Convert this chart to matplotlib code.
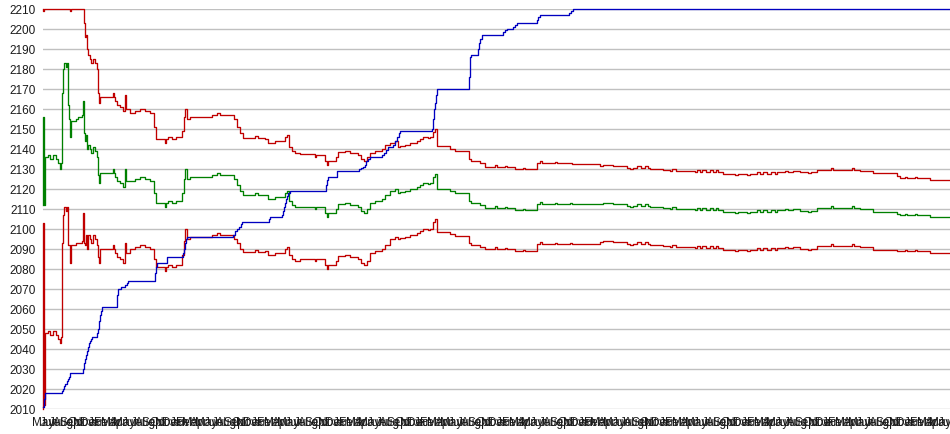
import matplotlib
matplotlib.use("Agg")
import matplotlib.pyplot as plt
import numpy as np

plt.rcParams['font.family'] = ['Liberation Sans', 'DejaVu Sans']

# observation index (about 6.8 observations per month), series starts in May
OBS_PER_MONTH = 6.8
N_OBS = 907
month_names = ['Jan', 'Feb', 'Mar', 'Apr', 'May', 'Jun', 'Jul', 'Aug', 'Sep', 'Oct', 'Nov', 'Dec']
first_month = 4

# running mean (green) and band half-width (red = mean +/- half-width)
mean_t = [0, 0.4, 1.2, 2, 5, 7, 10, 13, 15, 17, 18, 19, 20, 21, 23, 24, 25, 26, 27, 28,
          33, 35, 39, 40, 41, 42, 43, 44, 45, 47, 48, 50, 52, 54, 55, 56, 57, 70, 71, 72,
          74, 77, 80, 82, 83, 87, 92, 97, 102, 107, 111, 113, 122, 123, 125, 129, 133, 139, 141, 142,
          144, 147, 169, 174, 177, 182, 191, 194, 197, 200, 212, 215, 222, 225, 232, 242, 244, 246, 249, 252,
          257, 272, 273, 282, 284, 285, 293, 295, 302, 307, 315, 318, 321, 324, 327, 332, 339, 342, 347, 352,
          355, 357, 362, 367, 374, 377, 380, 385, 387, 390, 392, 394, 407, 412, 426, 428, 437, 442, 452, 454,
          462, 464, 472, 480, 482, 494, 497, 499, 512, 514, 527, 529, 557, 560, 570, 584, 587, 590, 594, 598,
          602, 605, 607, 620, 627, 629, 633, 652, 654, 657, 659, 663, 667, 670, 673, 675, 680, 692, 695, 704,
          707, 714, 717, 720, 724, 728, 732, 734, 742, 745, 750, 757, 765, 768, 774, 788, 790, 809, 811, 817,
          830, 854, 857, 862, 864, 872, 874, 887, 907]
mean_v = [2112, 2156, 2112, 2136, 2137, 2135, 2137, 2135, 2133, 2130, 2133, 2168, 2180, 2183, 2181, 2183, 2162, 2155, 2146, 2154,
          2155, 2156, 2157, 2164, 2148, 2144, 2147, 2140, 2142, 2140, 2138, 2141, 2139, 2136, 2127, 2123, 2128, 2130, 2128, 2126,
          2124, 2123, 2121, 2130, 2124, 2124, 2125, 2126, 2125, 2124, 2118, 2113, 2111, 2113, 2114, 2113, 2114, 2118, 2125, 2130,
          2125, 2126, 2127, 2128, 2127, 2127, 2125, 2122, 2119, 2117, 2118, 2117, 2117, 2115, 2116, 2118, 2119, 2114, 2112, 2111,
          2111, 2110, 2111, 2108, 2106, 2108, 2110, 2112.5, 2113, 2112, 2111, 2109, 2108, 2110, 2113, 2114, 2115, 2117, 2119, 2120,
          2118, 2118.5, 2119, 2120, 2121, 2122, 2123, 2122.5, 2123, 2126, 2127.5, 2120, 2118.7, 2117.8, 2114, 2113, 2112, 2110.5, 2111.5, 2110.5,
          2111, 2110.5, 2109.5, 2110, 2109.5, 2112.5, 2113.5, 2112.5, 2113, 2112.5, 2113, 2112.5, 2112.2, 2113, 2112.2, 2111.5, 2110.7, 2111.5, 2112.2, 2111.5,
          2112.2, 2111.5, 2111, 2110.5, 2110, 2110.8, 2110, 2109.6, 2110.5, 2109.6, 2110.5, 2109.6, 2110.5, 2109.6, 2110.5, 2109.6, 2108.6, 2108, 2108.6, 2108,
          2108.6, 2109.3, 2108.6, 2109.3, 2108.6, 2109.3, 2108.6, 2109.3, 2110, 2109.3, 2110, 2109, 2108.5, 2109, 2110.5, 2111.3, 2110.5, 2111.3, 2110.5, 2110,
          2108.5, 2107.5, 2107, 2107.6, 2107, 2107.6, 2107, 2106, 2106]
half_width = [102, 53, 100, 88, 88, 88, 88, 88, 88, 87, 87, 75, 73, 72, 72, 72, 70, 63, 63, 62,
              62, 63, 63, 56, 55, 52, 50, 50, 45, 45, 45, 44, 44, 44, 41, 40, 38, 38, 38, 38,
              38, 38, 38, 37, 36, 34, 34, 34, 34, 34, 33, 32, 32, 32, 32, 32, 32, 31, 31, 30,
              30, 30, 30, 30, 30, 30, 30, 29, 29, 28.5, 28.5, 28.5, 28, 28, 28, 28, 28, 27, 27, 27,
              26.3, 26, 26, 26, 26, 26, 26, 26, 26, 26, 26, 26, 26, 26, 25, 25, 25, 25, 24, 24,
              23, 23, 23, 23, 23, 23, 23, 23, 23, 22.5, 22.5, 21.5, 21.3, 21.2, 21, 21, 21, 20.5, 20.5, 20.5,
              20.5, 20.5, 20.5, 20.5, 20.5, 20.3, 20.3, 20.3, 20.3, 20.3, 20, 20, 19, 19, 19, 19, 19, 19, 19, 19,
              19, 19, 19, 19, 19, 19, 19, 19, 19, 19, 19, 19, 19, 19, 19, 19, 19, 19, 19, 19,
              19, 19, 19, 19, 19, 19, 19, 19, 19, 19, 19, 19.3, 19.3, 19.3, 19, 19, 19, 19, 19, 19,
              19.3, 18.7, 18.3, 18.3, 18.3, 18.3, 18.3, 18.3, 18.3]

# cumulative level (blue)
cum_t = [0, 0.5, 1.5, 19, 20, 21, 22, 24, 25, 26, 27, 40, 41, 42, 43, 44, 45, 46, 47, 48,
         49, 54, 55, 56, 57, 58, 59, 74, 75, 78, 82, 84, 85, 112, 113, 114, 124, 140, 141, 142,
         143, 144, 190, 192, 194, 196, 198, 199, 226, 227, 239, 240, 241, 242, 243, 244, 245, 247, 283, 284,
         285, 294, 316, 318, 320, 322, 323, 325, 327, 339, 341, 343, 345, 350, 352, 354, 356, 357, 389, 390,
         391, 392, 393, 394, 426, 427, 428, 435, 436, 437, 439, 460, 462, 464, 470, 472, 474, 494, 495, 497,
         526, 528, 530, 907]
cum_v = [2011, 2015, 2018, 2019, 2020, 2021.5, 2022.5, 2024, 2025, 2026, 2028, 2030, 2033, 2035, 2037, 2039, 2041, 2043, 2044, 2045,
         2046, 2048, 2050, 2054, 2057, 2059, 2061, 2067, 2070, 2071, 2072, 2073, 2074, 2078, 2081, 2083, 2086, 2088, 2090, 2093,
         2095, 2096, 2097, 2099, 2100, 2101, 2102.5, 2103.5, 2105, 2106, 2107, 2109, 2111, 2113, 2115, 2116.5, 2118, 2119, 2122, 2124.5,
         2126, 2129, 2130, 2130.5, 2131, 2132, 2134, 2135, 2136, 2137, 2138, 2139.5, 2141, 2142, 2144, 2146, 2148, 2149, 2150, 2155,
         2160, 2163, 2167, 2170, 2176, 2185.75, 2187, 2190, 2193, 2195, 2197, 2198.5, 2199.5, 2200, 2201, 2202, 2203, 2204.5, 2206, 2207,
         2208, 2209, 2212, 2216]

y_min, y_max = 2010, 2210

mean_t = np.array(mean_t, dtype=float)
mean_v = np.array(mean_v, dtype=float)
half_width = np.array(half_width, dtype=float)
upper = np.clip(mean_v + half_width, y_min, y_max)
lower = np.clip(mean_v - half_width, y_min, y_max)
cum = np.clip(np.array(cum_v, dtype=float), y_min, y_max)

fig = plt.figure(figsize=(9.5, 4.35), dpi=100)
ax = fig.add_axes([43 / 950, 25 / 435, 907 / 950, 400.5 / 435])

lw = 0.95
ax.plot(mean_t, upper, drawstyle='steps-post', color='#c00000', lw=lw, clip_on=False, zorder=3)
ax.plot(mean_t, lower, drawstyle='steps-post', color='#c00000', lw=lw, clip_on=False, zorder=3)
ax.plot(mean_t, mean_v, drawstyle='steps-post', color='#008000', lw=lw, clip_on=False, zorder=3)
ax.plot(cum_t, cum, drawstyle='steps-post', color='#0000c0', lw=lw, clip_on=False, zorder=4)

ax.set_xlim(0, N_OBS)
ax.set_ylim(y_min, y_max)
ax.set_yticks(np.arange(y_min, y_max + 1, 10))
ax.yaxis.grid(True, color='#c0c0c0', lw=1.0)
ax.set_axisbelow(True)

tick_pos = np.arange(0, N_OBS + 1, OBS_PER_MONTH)
ax.set_xticks(tick_pos)
ax.set_xticklabels([month_names[(first_month + i) % 12] for i in range(len(tick_pos))])

for s in ax.spines.values():
    s.set_visible(False)
ax.tick_params(axis='both', length=0, labelsize=8.5, colors='#1a1a1a')
ax.tick_params(axis='y', pad=5)
ax.tick_params(axis='x', pad=5)

fig.savefig('out.png', dpi=100)
